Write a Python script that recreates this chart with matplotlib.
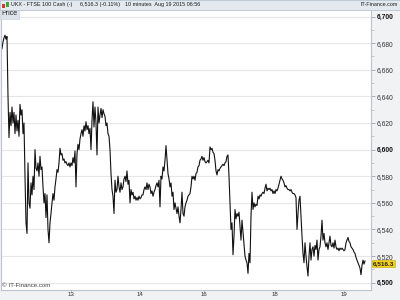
import matplotlib
matplotlib.use("Agg")
import matplotlib.pyplot as plt
from matplotlib.patches import Rectangle
from matplotlib.ticker import MultipleLocator, FuncFormatter

plt.rcParams['font.family'] = ['Liberation Sans', 'DejaVu Sans']

# UKX 10 minute prices (about one value per pixel)
prices = [
    6674, 6676, 6681, 6684, 6686, 6683, 6685, 6640, 6609, 6628,
    6618, 6632, 6620, 6628, 6612, 6626, 6614, 6622, 6610, 6634,
    6626, 6630, 6612, 6620, 6580, 6545, 6537, 6590, 6560, 6556,
    6575, 6566, 6580, 6570, 6600, 6586, 6584, 6590, 6580, 6595,
    6585, 6587, 6572, 6560, 6567, 6549, 6566, 6540, 6530, 6545,
    6552, 6560, 6567, 6562, 6572, 6578, 6585, 6583, 6590, 6601,
    6596, 6597, 6592, 6593, 6590, 6591, 6589, 6588, 6590, 6587,
    6590, 6588, 6594, 6590, 6599, 6572, 6597, 6604, 6600, 6608,
    6612, 6615, 6610, 6618, 6614, 6621, 6615, 6618, 6612, 6616,
    6600, 6622, 6636, 6617, 6632, 6620, 6596, 6632, 6620, 6626,
    6631, 6624, 6630, 6627, 6625, 6618, 6620, 6612, 6610, 6600,
    6582, 6570, 6565, 6552, 6577, 6568, 6570, 6580, 6572, 6568,
    6575, 6570, 6572, 6578, 6580, 6576, 6584, 6574, 6577, 6560,
    6570, 6566, 6568, 6563, 6565, 6562, 6564, 6562, 6565, 6563,
    6564, 6566, 6566, 6570, 6572, 6570, 6575, 6570, 6574, 6572,
    6567, 6569, 6565, 6568, 6570, 6573, 6575, 6572, 6577, 6557,
    6580, 6578, 6587, 6584, 6592, 6603, 6592, 6582, 6578, 6572,
    6575, 6565, 6568, 6555, 6560, 6556, 6552, 6557, 6550, 6545,
    6555, 6568, 6552, 6550, 6557, 6560, 6562, 6565, 6566, 6567,
    6572, 6580, 6578, 6580, 6577, 6582, 6583, 6587, 6588, 6592,
    6593, 6595, 6592, 6594, 6591, 6590, 6591, 6592, 6590, 6602,
    6600, 6601, 6598, 6597, 6592, 6584, 6581, 6585, 6584, 6586,
    6587, 6588, 6589, 6588, 6590, 6591, 6595, 6596, 6580, 6560,
    6540, 6545, 6521, 6535, 6555, 6548, 6552, 6550, 6553, 6542,
    6532, 6547, 6538, 6530, 6520, 6517, 6515, 6507, 6522, 6515,
    6550, 6568, 6555, 6560, 6557, 6559, 6558, 6565, 6563, 6566,
    6565, 6567, 6568, 6567, 6571, 6574, 6569, 6571, 6570, 6571,
    6569, 6570, 6567, 6569, 6567, 6570, 6569, 6571, 6574, 6577,
    6580, 6578, 6577, 6575, 6572, 6573, 6571, 6570, 6570, 6569,
    6570, 6568, 6567, 6567, 6566, 6564, 6540, 6552, 6562, 6565,
    6550, 6535, 6522, 6515, 6530, 6520, 6512, 6505, 6520, 6530,
    6517, 6525, 6527, 6520, 6528, 6525, 6532, 6517, 6525, 6527,
    6535, 6547, 6532, 6537, 6530, 6527, 6530, 6525, 6530, 6535,
    6528, 6527, 6530, 6526, 6532, 6527, 6525, 6526, 6524, 6526,
    6525, 6526, 6525, 6524, 6525, 6530, 6532, 6534, 6531, 6530,
    6527, 6526, 6525, 6523, 6522, 6519, 6517, 6515, 6513, 6511,
    6506, 6513, 6517, 6514, 6516.3,
]
last_price = 6516.3

day_labels = ["13", "14", "16", "18", "19"]
day_pos = [70, 139, 203, 274, 343]

fig = plt.figure(figsize=(4, 3), dpi=100, facecolor="#f1f2f4")

# header bar
fig.patches.append(Rectangle((0, 0.968), 1, 0.032, transform=fig.transFigure,
                             facecolor="#e3e9ef", edgecolor="#b9c4cf", lw=0.6))
fig.patches.append(Rectangle((0.006, 0.975), 0.007, 0.012, transform=fig.transFigure,
                             facecolor="#d63a2f", edgecolor="none"))
fig.patches.append(Rectangle((0.015, 0.978), 0.007, 0.017, transform=fig.transFigure,
                             facecolor="#3ca63c", edgecolor="none"))
hdr_y = 0.984
hdr_kw = dict(fontsize=3.9, color="#1a1a1a", va="center")
fig.text(0.028, hdr_y, "UKX - FTSE 100 Cash (-)", **hdr_kw)
fig.text(0.2, hdr_y, "6,516.3 (-0.11%)", **hdr_kw)
fig.text(0.313, hdr_y, "10 minutes  Aug 19 2015 06:56", **hdr_kw)
fig.text(0.995, hdr_y, "IT-Finance.com", ha="right", **hdr_kw)

ax = fig.add_axes([0.0025, 0.035, 0.925, 0.932])
ax.set_facecolor("white")
ax.plot(range(len(prices)), prices, color="#111111", lw=0.8)

ax.set_xlim(0, 370)
ax.set_ylim(6494.9, 6705)

ax.yaxis.tick_right()
ax.yaxis.set_major_locator(MultipleLocator(20))
ax.yaxis.set_minor_locator(MultipleLocator(10))
ax.yaxis.set_major_formatter(FuncFormatter(lambda v, p: f"{v:,.0f}"))
ax.tick_params(axis="y", which="major", length=3, width=0.6, color="#9aa4ae",
               labelsize=4.8, labelcolor="#333333", pad=1)
ax.tick_params(axis="y", which="minor", length=2, width=0.5, color="#b0b8c0")
for lab in ax.get_yticklabels():
    if lab.get_text() in ("6,700", "6,600", "6,500"):
        lab.set_fontweight("bold")
        lab.set_color("#111111")

ax.set_xticks(day_pos)
ax.set_xticklabels(day_labels)
ax.tick_params(axis="x", length=1.5, width=0.5, color="#9aa4ae", labelsize=4.4,
               labelcolor="#333333", pad=0.5)

ax.grid(axis="y", which="major", color="#e6e6e6", lw=0.8)
ax.set_axisbelow(True)

for side in ("left", "right", "bottom"):
    ax.spines[side].set_color("#b9c4cf")
    ax.spines[side].set_linewidth(0.8)
ax.spines["top"].set_visible(False)

# price label box on the axis
ax.text(1.005, last_price, f"{last_price:,.1f}", transform=ax.get_yaxis_transform(),
        fontsize=4.6, color="#222222", va="top", ha="left", fontweight="bold",
        bbox=dict(boxstyle="square,pad=0.12", facecolor="#f2d21a", edgecolor="#c9a800", lw=0.4),
        clip_on=False, zorder=5)

# "Price" tag top-left
ax.text(0.002, 0.998, "Price", transform=ax.transAxes, fontsize=5, color="#222222",
        va="top", ha="left",
        bbox=dict(boxstyle="square,pad=0.2", facecolor="#dce3ea", edgecolor="#c5ced8", lw=0.4))

ax.text(0.004, 0.006, "\u00a9 IT-Finance.com", transform=ax.transAxes, fontsize=4.4,
        color="#444444", va="bottom", ha="left")

fig.savefig("out.png", dpi=100, facecolor=fig.get_facecolor())
